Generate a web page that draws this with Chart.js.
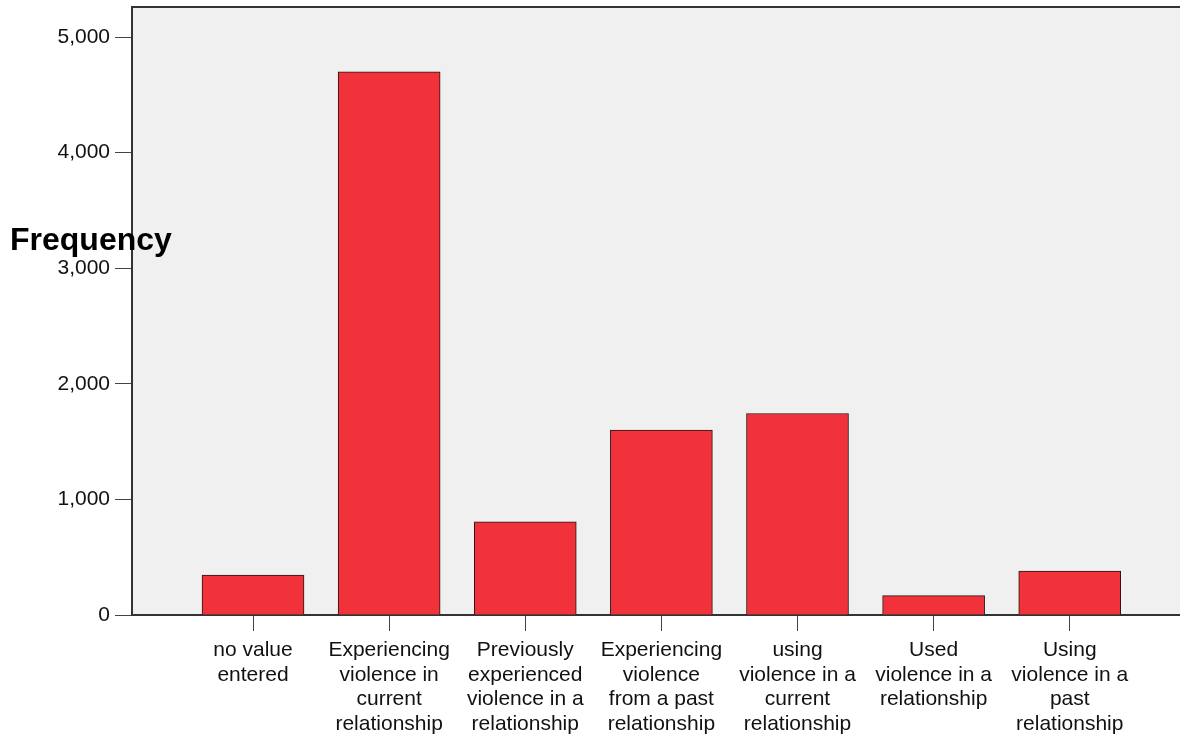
<!DOCTYPE html>
<html>
<head>
<meta charset="utf-8">
<script src="https://cdn.jsdelivr.net/npm/chart.js@4/dist/chart.umd.min.js"></script>
<style>
    body { margin: 0; background: #fff; }
    #wrap { position: relative; width: 1180px; height: 738px; }
    #yTitle {
        position: absolute; left: 10px; top: 223px; z-index: 2;
        font: bold 32px "Liberation Sans", Arial, sans-serif; line-height: 32px; color: #000;
    }
</style>
</head>
<body>
<div id="wrap">
    <canvas id="freqChart" width="1180" height="738"></canvas>
    <div id="yTitle">Frequency</div>
</div>
<script>
// category labels (wrapped as in the picture)
const categories = [
    ['no value', 'entered'],
    ['Experiencing', 'violence in', 'current', 'relationship'],
    ['Previously', 'experienced', 'violence in a', 'relationship'],
    ['Experiencing', 'violence', 'from a past', 'relationship'],
    ['using', 'violence in a', 'current', 'relationship'],
    ['Used', 'violence in a', 'relationship'],
    ['Using', 'violence in a', 'past', 'relationship']
];
const frequencies = [346, 4699, 805, 1599, 1743, 167, 381];
const yTicks = [0, 1000, 2000, 3000, 4000, 5000];

const fontFamily = '"Liberation Sans", Arial, sans-serif';

// light grey plot background + top border line
const plotFrame = {
    id: 'plotFrame',
    beforeDraw(chart) {
        const { ctx, chartArea: a } = chart;
        ctx.save();
        ctx.fillStyle = '#f0f0f0';
        ctx.fillRect(a.left, a.top, a.right - a.left, a.bottom - a.top);
        ctx.restore();
    },
    afterDraw(chart) {
        const { ctx, chartArea: a } = chart;
        ctx.save();
        ctx.strokeStyle = '#333';
        ctx.lineWidth = 2;
        ctx.beginPath();
        ctx.moveTo(a.left, a.top);
        ctx.lineTo(a.right, a.top);
        ctx.stroke();
        ctx.restore();
    }
};

const ctx = document.getElementById('freqChart').getContext('2d');
new Chart(ctx, {
    type: 'bar',
    data: {
        datasets: [{
            data: frequencies.map((v, i) => ({ x: i + 1, y: v })),
            backgroundColor: 'rgb(242, 50, 58)',
            borderColor: '#221414',
            borderWidth: 1,
            barThickness: 102
        }]
    },
    options: {
        responsive: false,
        animation: false,
        layout: { padding: { top: 7, left: 0, right: 0, bottom: 0 } },
        plugins: {
            legend: { display: false },
            tooltip: { enabled: false }
        },
        scales: {
            x: {
                type: 'linear',
                min: 0.111,
                max: 7.81,
                offset: false,
                afterBuildTicks: scale => {
                    scale.ticks = categories.map((c, i) => ({ value: i + 1 }));
                },
                afterFit: scale => {
                    scale.height = 123;
                    scale.paddingLeft = 0;
                    scale.paddingRight = 0;
                },
                grid: {
                    offset: false,
                    drawOnChartArea: false,
                    drawTicks: true,
                    tickLength: 16,
                    color: '#444',
                    lineWidth: 1
                },
                border: { display: true, color: '#333', width: 2 },
                ticks: {
                    autoSkip: false,
                    maxRotation: 0,
                    padding: 7,
                    color: '#111',
                    font: { family: fontFamily, size: 21, lineHeight: 1.167 },
                    callback: value => categories[value - 1]
                }
            },
            y: {
                min: 0,
                max: 5260,
                afterBuildTicks: scale => {
                    scale.ticks = yTicks.map(v => ({ value: v }));
                },
                afterFit: scale => {
                    scale.width = 132;
                    scale.paddingTop = 0;
                    scale.paddingBottom = 0;
                },
                grid: {
                    drawOnChartArea: false,
                    drawTicks: true,
                    tickLength: 17,
                    color: '#444',
                    lineWidth: 1
                },
                border: { display: true, color: '#333', width: 2 },
                ticks: {
                    padding: 5,
                    color: '#111',
                    font: { family: fontFamily, size: 21 },
                    callback: value => value.toLocaleString('en-US')
                }
            }
        }
    },
    plugins: [plotFrame]
});
</script>
</body>
</html>
